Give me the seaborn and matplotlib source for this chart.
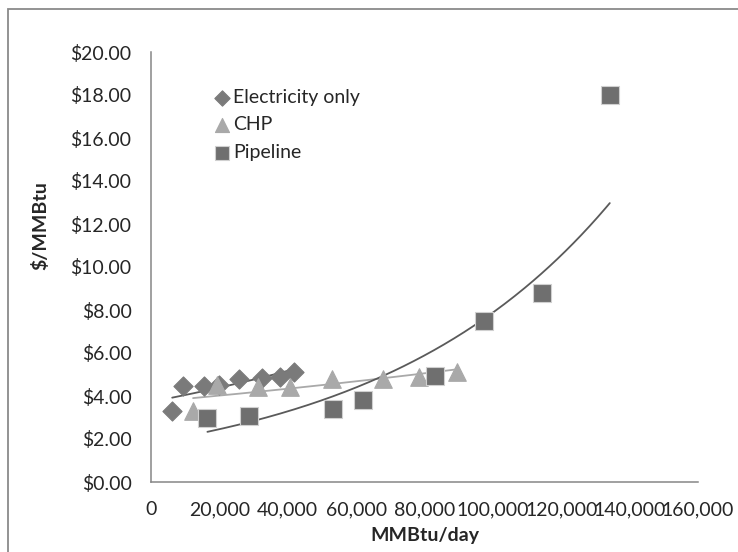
import numpy as np
import pandas as pd
import matplotlib
matplotlib.use("Agg")
import matplotlib.pyplot as plt
import matplotlib.patches as mpatches
import seaborn as sns

# ---- data ----
elec_x = [6200, 9400, 15400, 20000, 25800, 32500, 37600, 41900]
elec_y = [3.31, 4.48, 4.48, 4.51, 4.80, 4.84, 4.89, 5.13]

chp_x = [12300, 19400, 31400, 40800, 52800, 67800, 78400, 89400]
chp_y = [3.28, 4.50, 4.43, 4.43, 4.79, 4.79, 4.87, 5.11]

pipe_x = [16500, 28800, 53100, 61900, 83200, 97400, 114400, 134200]
pipe_y = [2.98, 3.08, 3.41, 3.80, 4.92, 7.49, 8.77, 18.00]

series_names = ["Electricity only", "CHP", "Pipeline"]
x_ticks = [0, 20000, 40000, 60000, 80000, 100000, 120000, 140000, 160000]
y_ticks = [0, 2, 4, 6, 8, 10, 12, 14, 16, 18, 20]

# ---- style ----
sns.set_theme(style="white")
plt.rcParams["font.family"] = ["Lato", "DejaVu Sans"]
FS = 14
TXT = "#262626"
AXC = "#868686"

fig = plt.figure(figsize=(7.38, 5.52), dpi=100)
ax = fig.add_axes([151 / 738, 1 - 482 / 552, (698 - 151) / 738, (482 - 52) / 552])


def exp_fit(x, y):
    x = np.asarray(x, float)
    y = np.asarray(y, float)
    b, a = np.polyfit(x, np.log(y), 1)
    xs = np.linspace(x.min(), x.max(), 200)
    return xs, np.exp(a + b * xs)


styles = [
    dict(x=elec_x, y=elec_y, marker="D", color="#7a7a7a", s=95, ec="#7a7a7a", lc="#5a5a5a"),
    dict(x=chp_x, y=chp_y, marker="^", color="#a9a9a9", s=160, ec="#a9a9a9", lc="#a9a9a9"),
    dict(x=pipe_x, y=pipe_y, marker="s", color="#6f6f6f", s=160, ec="#d0d0d0", lc="#5a5a5a"),
]

for name, st in zip(series_names, styles):
    df = pd.DataFrame({"x": st["x"], "y": st["y"]})
    sns.scatterplot(data=df, x="x", y="y", marker=st["marker"], color=st["color"],
                    s=st["s"], edgecolor=st["ec"], linewidth=0.8, ax=ax,
                    label=name, zorder=3)

for name, st in zip(series_names, styles):
    xs, ys = exp_fit(st["x"], st["y"])
    sns.lineplot(x=xs, y=ys, color=st["lc"], linewidth=1.3, ax=ax, zorder=2,
                 legend=False)

ax.set_xlim(0, 160000)
ax.set_ylim(0, 20)
ax.set_xticks(x_ticks)
ax.set_xticklabels([f"{v:,}" for v in x_ticks])
ax.set_yticks(y_ticks)
ax.set_yticklabels([f"${v:.2f}" for v in y_ticks])
ax.tick_params(axis="both", labelsize=FS, colors=AXC, labelcolor=TXT,
               length=5, width=1, direction="out")
ax.tick_params(axis="y", pad=9)
ax.tick_params(axis="x", pad=9)
for sp in ["top", "right"]:
    ax.spines[sp].set_visible(False)
for sp in ["left", "bottom"]:
    ax.spines[sp].set_color(AXC)
    ax.spines[sp].set_linewidth(1.1)
ax.grid(False)
ax.set_xlabel("")
ax.set_ylabel("")

fig.text(40 / 738, 1 - 226 / 552, "$/MMBtu", rotation=90, ha="center", va="center",
         fontsize=FS, fontweight="bold", color=TXT)
fig.text(424.5 / 738, 1 - 536 / 552, "MMBtu/day", ha="center", va="center",
         fontsize=FS, fontweight="bold", color=TXT)

leg = ax.legend(loc="upper left", bbox_to_anchor=(203 / 738, 1 - 79 / 552),
                bbox_transform=fig.transFigure, frameon=False, fontsize=FS,
                handletextpad=0.05, labelspacing=0.55, borderpad=0,
                handlelength=1.0, markerscale=0.8)
for t in leg.get_texts():
    t.set_color(TXT)

frame = mpatches.Rectangle((8 / 738, -0.2), 1.3, 1.2 - 9 / 552,
                           transform=fig.transFigure, fill=False,
                           edgecolor="#8a8a8a", linewidth=1.3, clip_on=False)
fig.patches.append(frame)

fig.savefig("out.png", dpi=100)
